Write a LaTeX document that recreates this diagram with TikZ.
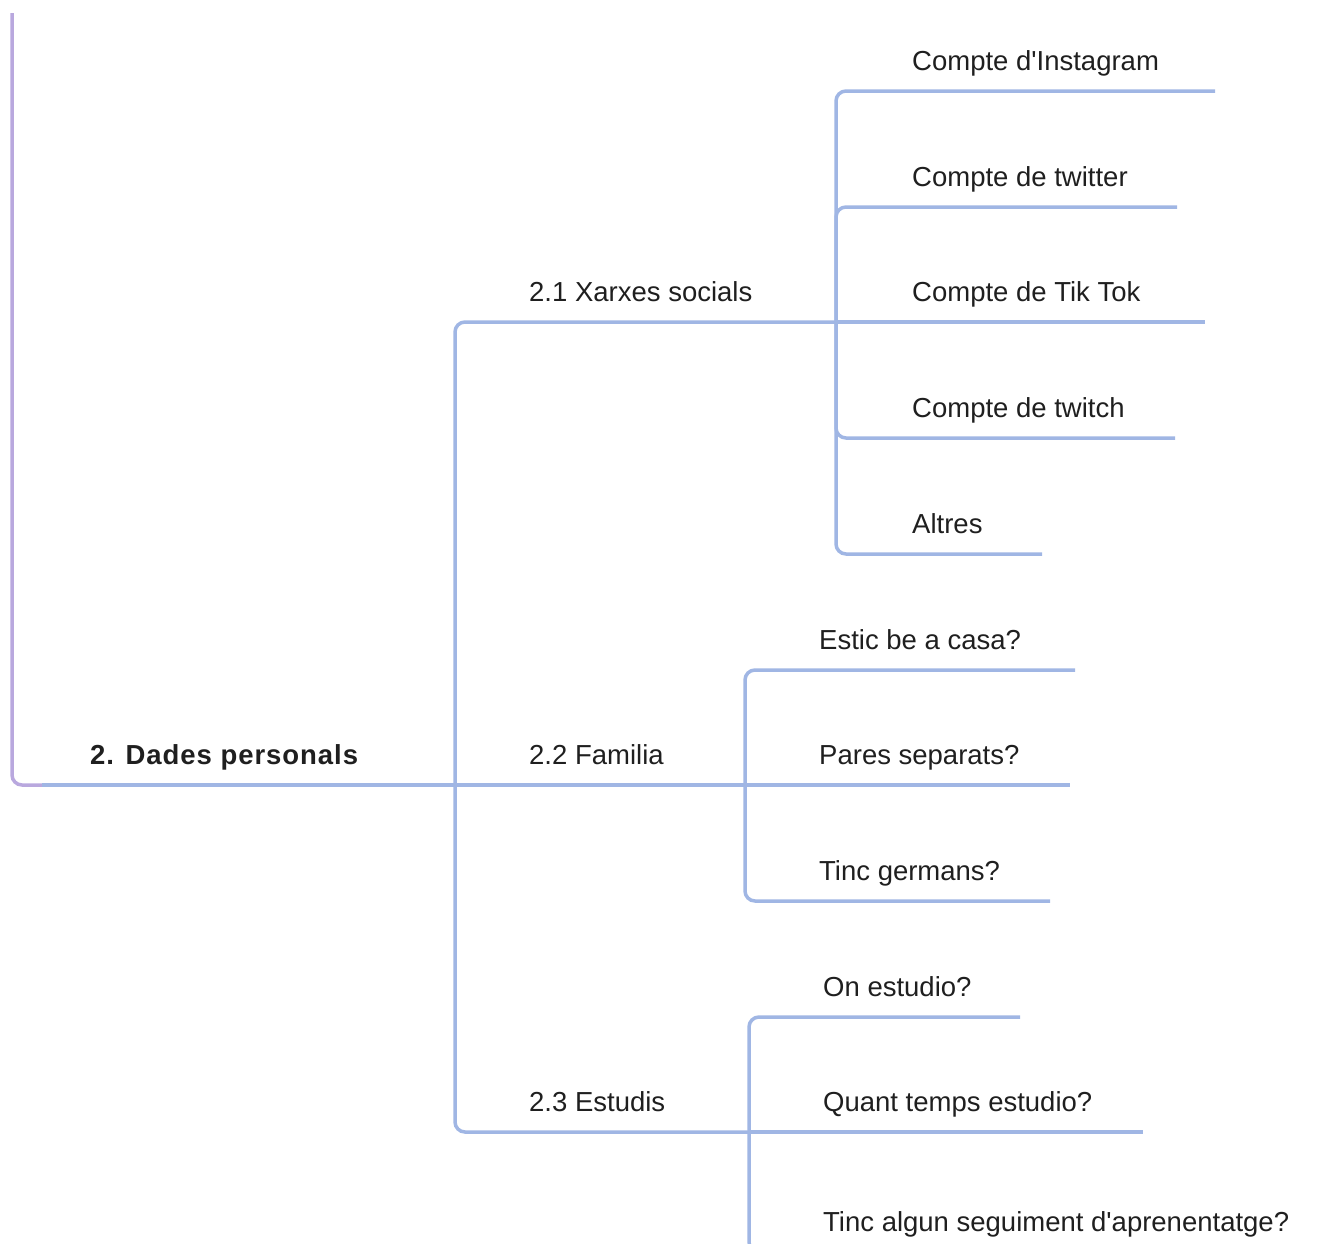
\documentclass[tikz,border=0pt]{standalone}
\usepackage{fontspec}
\setmainfont{Liberation Sans}
\usetikzlibrary{calc}
\definecolor{branch}{RGB}{160,182,228}
\definecolor{rootline}{RGB}{185,168,222}

\begin{document}
\begin{tikzpicture}[x=1pt,y=-1pt,
line/.style={draw=branch,line width=3.5pt,rounded corners=10pt},
topic/.style={anchor=base west,inner sep=0pt,text=black!88,
  font=\fontsize{27.5}{32}\selectfont}]
\clip (0,0) rectangle (1325,1243);
% junctions
\coordinate (top) at (12,13);
\coordinate (root) at (12,785);
\coordinate (j2) at (455,785);
\coordinate (j21) at (836,322);
\coordinate (j22) at (745,785);
\coordinate (j23) at (749,1132);
% ends of the lines
\coordinate (insta-e) at (1215,91);
\coordinate (twit-e) at (1177,207);
\coordinate (tik-e) at (1205,322);
\coordinate (twch-e) at (1175,438);
\coordinate (altr-e) at (1042,554);
\coordinate (casa-e) at (1075,670);
\coordinate (pares-e) at (1070,785);
\coordinate (germ-e) at (1050,901);
\coordinate (on-e) at (1020,1017);
\coordinate (temps-e) at (1143,1132);
\coordinate (seg-e) at (1300,1252);

\draw[line,draw=rootline] (top) |- (44,785);
\draw[line] (42,785) -- (j2);
\node[topic,font=\fontsize{27.5}{32}\selectfont\bfseries\addfontfeature{LetterSpace=3.5}]
  (dades) at ($(root)+(78,-21)$) {2. Dades personals};

\draw[line] (j2) |- (j21);
\draw[line] (j2) -- (j22);
\draw[line] (j2) |- (j23);
\node[topic] (xarxes) at ($(j2|-j21)+(74,-21)$) {2.1 Xarxes socials};
\node[topic] (familia) at ($(j2)+(74,-21)$) {2.2 Familia};
\node[topic] (estudis) at ($(j2|-j23)+(74,-21)$) {2.3 Estudis};

\draw[line] (j21) |- (insta-e);
\draw[line] (j21) |- (twit-e);
\draw[line] (j21) -- (tik-e);
\draw[line] (j21) |- (twch-e);
\draw[line] (j21) |- (altr-e);
\node[topic] (insta) at ($(j21|-insta-e)+(76,-21)$) {Compte d\textquotesingle Instagram};
\node[topic] (twit) at ($(j21|-twit-e)+(76,-21)$) {Compte de twitter};
\node[topic] (tik) at ($(j21)+(76,-21)$) {Compte de Tik Tok};
\node[topic] (twch) at ($(j21|-twch-e)+(76,-21)$) {Compte de twitch};
\node[topic] (altr) at ($(j21|-altr-e)+(76,-21)$) {Altres};

\draw[line] (j22) |- (casa-e);
\draw[line] (j22) -- (pares-e);
\draw[line] (j22) |- (germ-e);
\node[topic] (casa) at ($(j22|-casa-e)+(74,-21)$) {Estic be a casa?};
\node[topic] (pares) at ($(j22)+(74,-21)$) {Pares separats?};
\node[topic] (germ) at ($(j22|-germ-e)+(74,-21)$) {Tinc germans?};

\draw[line] (j23) |- (on-e);
\draw[line] (j23) -- (temps-e);
\draw[line] (j23) |- (seg-e);
\node[topic] (on) at ($(j23|-on-e)+(74,-21)$) {On estudio?};
\node[topic] (temps) at ($(j23)+(74,-21)$) {Quant temps estudio?};
\node[topic] (seg) at ($(j23|-seg-e)+(74,-21)$) {Tinc algun seguiment d\textquotesingle aprenentatge?};
\end{tikzpicture}
\end{document}
